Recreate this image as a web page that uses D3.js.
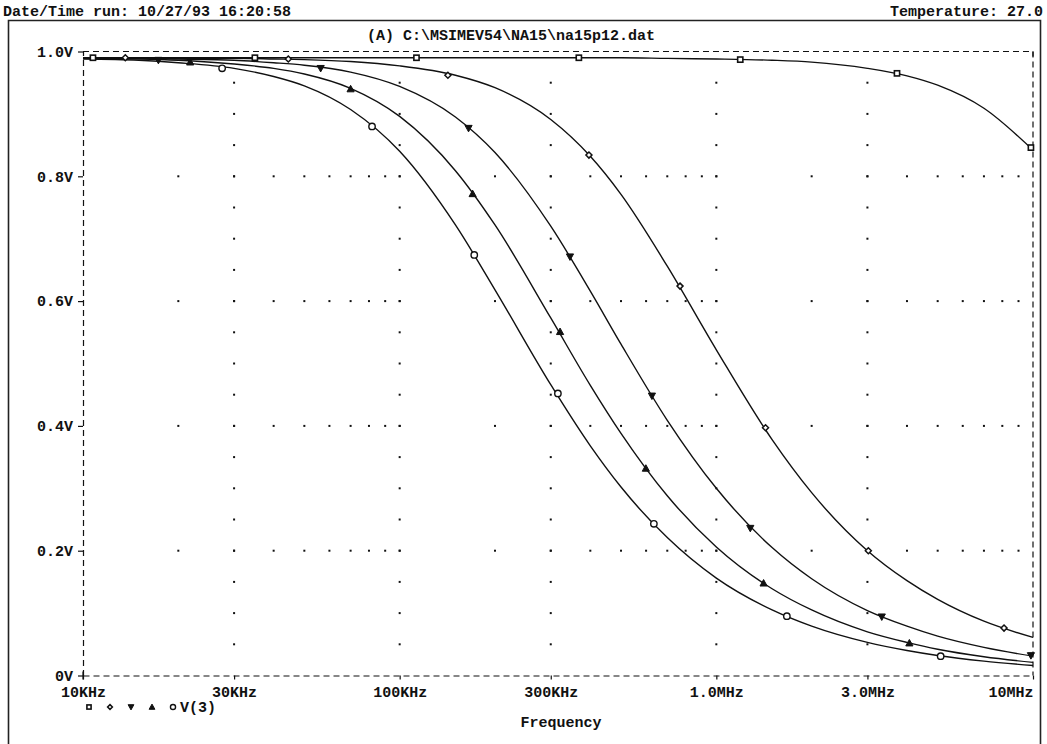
<!DOCTYPE html>
<html><head><meta charset="utf-8">
<script src="https://cdn.jsdelivr.net/npm/d3@7"></script>
<style>
body{margin:0;background:#fff;}
svg text{font-family:"Liberation Mono","Courier New",monospace;font-weight:bold;font-size:15px;fill:#111;}
</style></head><body>
<svg id="c" width="1047" height="744"></svg>
<script>
// ---- data ----
const headerLeft = "Date/Time run: 10/27/93 16:20:58";
const headerRight = "Temperature: 27.0";
const title = "(A) C:\\MSIMEV54\\NA15\\na15p12.dat";
const xTitle = "Frequency";
const legendLabel = "V(3)";

const xTickValues = [1e4, 3e4, 1e5, 3e5, 1e6, 3e6, 1e7];
const xTickLabels = ["10KHz", "30KHz", "100KHz", "300KHz", "1.0MHz", "3.0MHz", "10MHz"];
const yTickValues = [0, 0.2, 0.4, 0.6, 0.8, 1.0];
const yTickLabels = ["0V", "0.2V", "0.4V", "0.6V", "0.8V", "1.0V"];
const gridColumns = [3e4, 1e5, 3e5, 1e6, 3e6];

const freqs = [10e3, 15e3, 20e3, 30e3, 40e3, 50e3, 70e3, 100e3, 150e3, 200e3, 300e3, 400e3, 500e3, 700e3,
               1e6, 1.5e6, 2e6, 3e6, 4e6, 5e6, 7e6, 10e6];

const squareVals  = [0.990,0.990,0.990,0.990,0.990,0.990,0.990,0.990,0.990,0.990,0.990,0.990,0.990,0.989,
                     0.988,0.986,0.983,0.973,0.961,0.946,0.909,0.842];
const diamondVals = [0.990,0.990,0.989,0.989,0.988,0.987,0.984,0.977,0.962,0.942,0.891,0.832,0.771,0.656,
                     0.522,0.378,0.293,0.200,0.152,0.122,0.087,0.061];
const downVals    = [0.989,0.989,0.988,0.986,0.982,0.978,0.967,0.944,0.895,0.838,0.720,0.616,0.531,0.409,
                     0.300,0.205,0.155,0.104,0.079,0.063,0.045,0.031];
const upVals      = [0.989,0.988,0.986,0.980,0.973,0.964,0.941,0.896,0.809,0.722,0.573,0.465,0.388,0.288,
                     0.206,0.139,0.105,0.070,0.053,0.042,0.030,0.021];
const circleVals  = [0.988,0.986,0.982,0.973,0.960,0.945,0.907,0.840,0.722,0.618,0.466,0.368,0.302,0.221,
                     0.156,0.105,0.079,0.053,0.040,0.032,0.023,0.016];

const squareMarkF  = [10.75e3, 34.9e3, 113e3, 368e3, 1.19e6, 3.72e6, 9.85e6];
const squareMarkV  = [0.990, 0.990, 0.990, 0.990, 0.987, 0.965, 0.846];
const diamondMarkF = [13.6e3, 44.5e3, 142e3, 396e3, 768e3, 1.43e6, 3.02e6, 8.1e6];
const diamondMarkV = [0.990, 0.988, 0.962, 0.834, 0.624, 0.397, 0.200, 0.076];
const downMarkF    = [17.3e3, 56.3e3, 165e3, 345e3, 626e3, 1.28e6, 3.33e6, 9.85e6];
const downMarkV    = [0.986, 0.973, 0.877, 0.671, 0.448, 0.236, 0.094, 0.032];
const upMarkF      = [21.8e3, 70.0e3, 170e3, 321e3, 599e3, 1.41e6, 4.07e6];
const upMarkV      = [0.983, 0.940, 0.772, 0.551, 0.332, 0.148, 0.052];
const circleMarkF  = [27.5e3, 81.8e3, 172e3, 316e3, 635e3, 1.67e6, 5.11e6];
const circleMarkV  = [0.973, 0.880, 0.674, 0.452, 0.243, 0.095, 0.031];

const series = [
  {sym:"square",  vals:squareVals,  mf:squareMarkF,  mv:squareMarkV},
  {sym:"diamond", vals:diamondVals, mf:diamondMarkF, mv:diamondMarkV},
  {sym:"down",    vals:downVals,    mf:downMarkF,    mv:downMarkV},
  {sym:"up",      vals:upVals,      mf:upMarkF,      mv:upMarkV},
  {sym:"circle",  vals:circleVals,  mf:circleMarkF,  mv:circleMarkV}
];

// ---- drawing ----
const W = 1047, H = 744;
const ink = "#111";
const svg = d3.select("#c");
svg.append("rect").attr("width", W).attr("height", H).attr("fill", "#fff");

const x = d3.scaleLog().domain([1e4, 1e7]).range([83, 1033]);
const y = d3.scaleLinear().domain([0, 1]).range([675.5, 51.5]);
const [x0, x1] = x.range();
const [yb, yt] = y.range();

// outer frame
svg.append("path").attr("d", `M8.5,${H + 2}V20.5H1040.5V${H + 2}`)
  .attr("fill", "none").attr("stroke", "#222").attr("stroke-width", 1.6);

// header texts
svg.append("text").attr("x", 3).attr("y", 16).text(headerLeft);
svg.append("text").attr("x", 1043).attr("y", 16).attr("text-anchor", "end").text(headerRight);
svg.append("text").attr("x", 511).attr("y", 40).attr("text-anchor", "middle").text(title);

// grid dots
const g = svg.append("g");
const minor = x.ticks().filter(f => f > 1e4 * 1.001 && f < 1e7 * 0.999);
const rowVals = yTickValues.filter(v => v > 0 && v < 1);
rowVals.forEach(v => {
  minor.forEach(f => {
    g.append("rect").attr("x", x(f) - 1).attr("y", y(v) - 1).attr("width", 2).attr("height", 2).attr("fill", ink);
  });
});
const colSteps = d3.range(1, 20).map(i => i * 0.05);
gridColumns.forEach(f => {
  colSteps.forEach(v => {
    g.append("rect").attr("x", x(f) - 1).attr("y", y(v) - 1).attr("width", 2).attr("height", 2).attr("fill", ink);
  });
});

// top and right dashed border
svg.append("path").attr("d", `M${x0},${yt}H${x1}V${yb}`)
  .attr("fill", "none").attr("stroke", ink).attr("stroke-width", 1.2).attr("stroke-dasharray", "6,4");
svg.append("path").attr("d", `M${x1},${yt}v5`).attr("stroke", ink).attr("stroke-width", 1.2);

// bottom axis
const xAxis = d3.axisBottom(x).tickValues(xTickValues).tickFormat((d, i) => xTickLabels[i])
  .tickSize(4).tickSizeOuter(0).tickPadding(7);
const gx = svg.append("g").attr("transform", `translate(0,${yb})`).call(xAxis);
gx.select(".domain").attr("stroke", ink).attr("stroke-width", 1.2).attr("stroke-dasharray", "6,4");
gx.selectAll(".tick line").attr("stroke", ink).attr("stroke-width", 1.2);
gx.selectAll(".tick text").attr("fill", ink).style("font-size", "15px")
  .style("font-family", "'Liberation Mono','Courier New',monospace").style("font-weight", "bold");
gx.selectAll(".tick text").filter((d, i) => i === xTickValues.length - 1).attr("text-anchor", "end");

// left axis
const yAxis = d3.axisLeft(y).tickValues(yTickValues).tickFormat((d, i) => yTickLabels[i])
  .tickSize(5).tickSizeOuter(0).tickPadding(5);
const gy = svg.append("g").attr("transform", `translate(${x0},0)`).call(yAxis);
gy.select(".domain").attr("stroke", ink).attr("stroke-width", 1.2).attr("stroke-dasharray", "6,4");
gy.selectAll(".tick line").attr("stroke", ink).attr("stroke-width", 1.2);
gy.selectAll(".tick text").attr("fill", ink).style("font-size", "15px")
  .style("font-family", "'Liberation Mono','Courier New',monospace").style("font-weight", "bold");
// "+" at origin
svg.append("path").attr("d", `M${x0},${yb - 4}v8`).attr("stroke", ink).attr("stroke-width", 1.2);

// curves
const line = d3.line().x(d => x(d[0])).y(d => y(d[1])).curve(d3.curveMonotoneX);
series.forEach(s => {
  svg.append("path").datum(freqs.map((f, i) => [f, s.vals[i]]))
    .attr("d", line).attr("fill", "none").attr("stroke", ink).attr("stroke-width", 1.4);
});

// markers
function drawMarker(sel, sym, cx, cy, scale) {
  const k = scale || 1;
  if (sym === "square") {
    sel.append("rect").attr("x", cx - 2.6 * k).attr("y", cy - 2.6 * k).attr("width", 5.2 * k).attr("height", 5.2 * k)
      .attr("fill", "#fff").attr("stroke", ink).attr("stroke-width", 1.6);
  } else if (sym === "diamond") {
    const r = 3 * k;
    sel.append("path").attr("d", `M${cx},${cy - r}L${cx + r},${cy}L${cx},${cy + r}L${cx - r},${cy}Z`)
      .attr("fill", "#fff").attr("stroke", ink).attr("stroke-width", 1.5);
  } else if (sym === "down") {
    const r = 3.6 * k;
    sel.append("path").attr("d", `M${cx - r},${cy - r * 0.8}L${cx + r},${cy - r * 0.8}L${cx},${cy + r}Z`)
      .attr("fill", ink).attr("stroke", ink).attr("stroke-width", 1);
  } else if (sym === "up") {
    const r = 3.6 * k;
    sel.append("path").attr("d", `M${cx - r},${cy + r * 0.8}L${cx + r},${cy + r * 0.8}L${cx},${cy - r}Z`)
      .attr("fill", ink).attr("stroke", ink).attr("stroke-width", 1);
  } else {
    sel.append("circle").attr("cx", cx).attr("cy", cy).attr("r", 3.2 * k)
      .attr("fill", "#fff").attr("stroke", ink).attr("stroke-width", 1.4);
  }
}
const mg = svg.append("g");
series.forEach(s => {
  s.mf.forEach((f, i) => drawMarker(mg, s.sym, x(f), y(s.mv[i])));
});

// legend
const legendX = [89, 110, 131, 152, 173];
const lg = svg.append("g");
series.forEach((s, i) => drawMarker(lg, s.sym, legendX[i], 707, 0.8));
svg.append("text").attr("x", 180).attr("y", 712).text(legendLabel);

// x title
svg.append("text").attr("x", 561).attr("y", 727).attr("text-anchor", "middle").text(xTitle);
</script>
</body></html>
